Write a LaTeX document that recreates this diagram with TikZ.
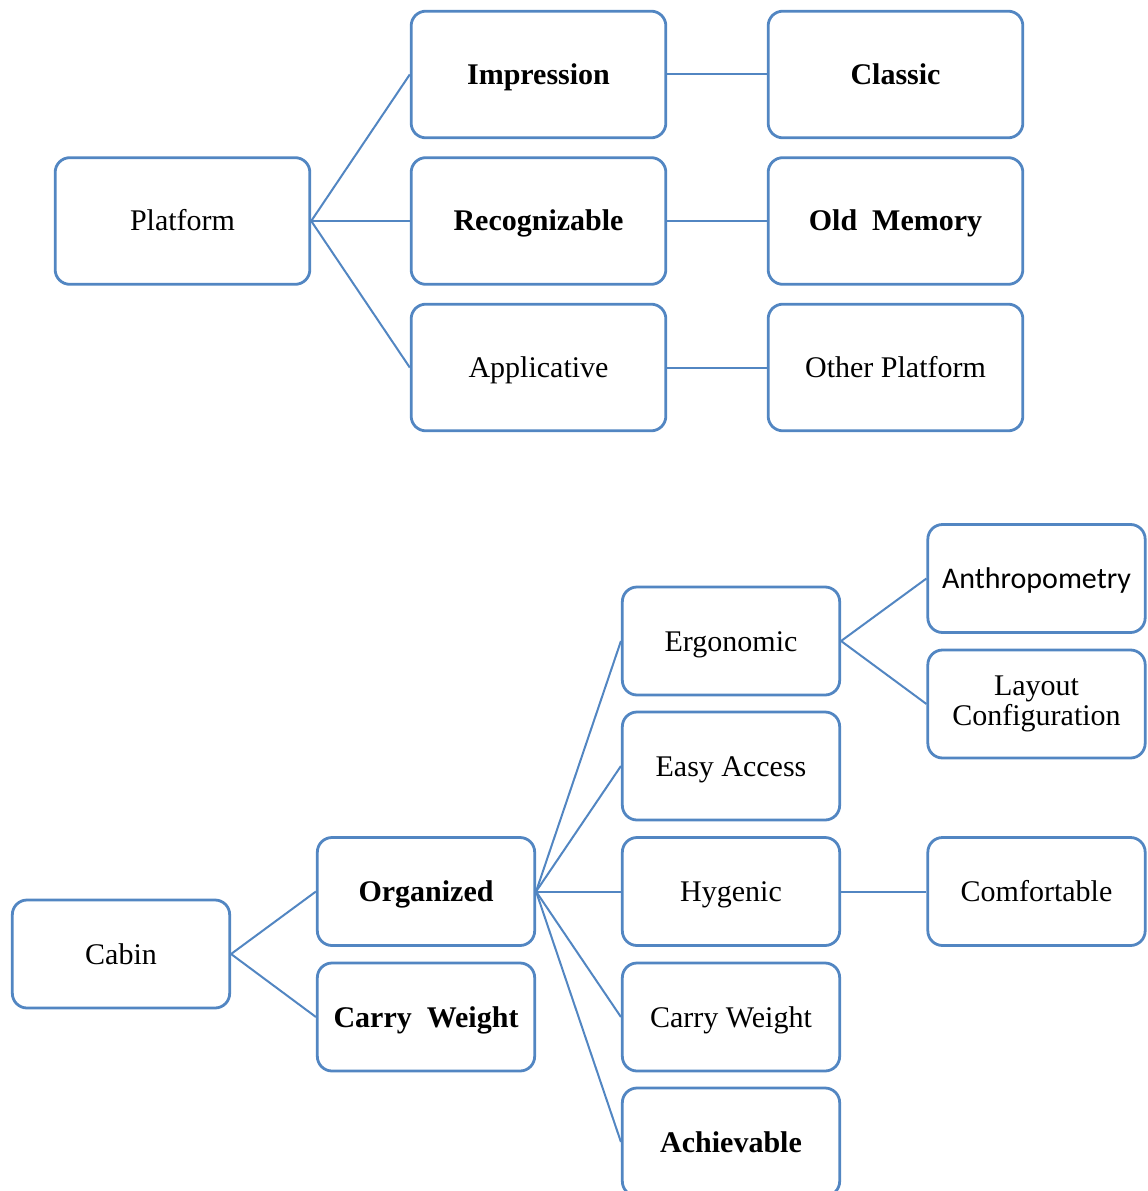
\documentclass[tikz,border=0pt]{standalone}
\usepackage{fontspec}
\setmainfont{Liberation Serif}
\newfontfamily\calib{Carlito}
\definecolor{edgeblue}{HTML}{5286C2}
\begin{document}
\begin{tikzpicture}[x=0.75pt,y=-0.75pt,
  box/.style={draw=edgeblue,line width=2.1pt,rounded corners=11pt,fill=white,
    inner sep=2pt,align=center,font=\fontsize{22.5}{23}\selectfont,
    text height=16pt,text depth=1pt},
  wide/.style={box,minimum width=191pt,minimum height=95pt},
  narrow/.style={box,minimum width=163pt,minimum height=81pt},
  link/.style={draw=edgeblue,line width=1.5pt}]
\useasboundingbox (0,0) rectangle (1147,1191);
\clip (0,0) rectangle (1147,1191);

% Platform tree
\node[wide] (platform) at (182.5,221) {Platform};
\node[wide] (impression) at (538.5,74.5) {\textbf{Impression}};
\node[wide] (recog) at (538.5,221) {\textbf{Recognizable}};
\node[wide] (applic) at (538.5,367.5) {Applicative};
\node[wide] (classic) at (895.5,74.5) {\textbf{Classic}};
\node[wide] (oldmem) at (895.5,221) {\textbf{Old\ \ Memory}};
\node[wide] (otherpl) at (895.5,367.5) {Other Platform};

\draw[link] (platform.east) -- (impression.west);
\draw[link] (platform.east) -- (recog.west);
\draw[link] (platform.east) -- (applic.west);
\draw[link] (impression.east) -- (classic.west);
\draw[link] (recog.east) -- (oldmem.west);
\draw[link] (applic.east) -- (otherpl.west);

% Cabin tree
\node[narrow] (cabin) at (121,954) {Cabin};
\node[narrow] (organized) at (426,891.5) {\textbf{Organized}};
\node[narrow] (carryA) at (426,1017) {\textbf{Carry\ \ Weight}};
\node[narrow] (ergo) at (731,641) {Ergonomic};
\node[narrow] (easy) at (731,766) {Easy Access};
\node[narrow] (hyg) at (731,891.5) {Hygenic};
\node[narrow] (carryB) at (731,1017) {Carry Weight};
\node[narrow] (achiev) at (731,1142) {\textbf{Achievable}};
\node[narrow,font=\calib\fontsize{22.5}{23}\selectfont] (anthro) at (1036.5,578.5) {Anthropometry};
\node[narrow,text height=,text depth=] (layout) at (1036.5,704) {Layout\\[-1pt]Configuration};
\node[narrow] (comfort) at (1036.5,891.5) {Comfortable};

\draw[link] (cabin.east) -- (organized.west);
\draw[link] (cabin.east) -- (carryA.west);
\foreach \t in {ergo,easy,hyg,carryB,achiev}
  \draw[link] (organized.east) -- (\t.west);
\draw[link] (ergo.east) -- (anthro.west);
\draw[link] (ergo.east) -- (layout.west);
\draw[link] (hyg.east) -- (comfort.west);
\end{tikzpicture}
\end{document}
